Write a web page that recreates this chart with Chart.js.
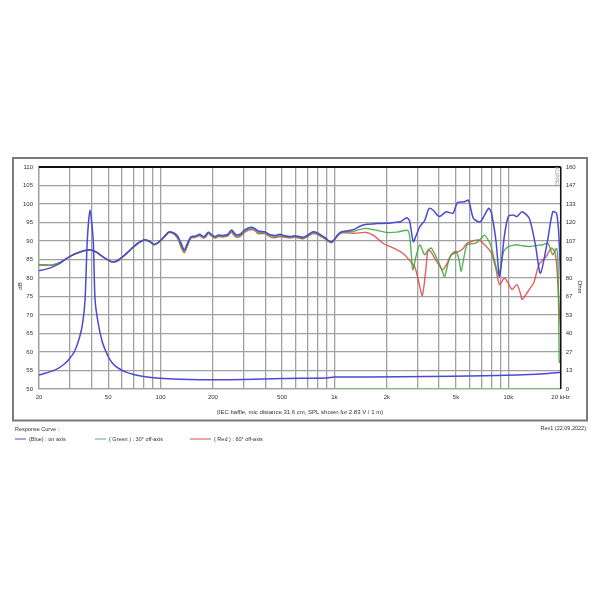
<!DOCTYPE html>
<html>
<head>
<meta charset="utf-8">
<script src="https://cdn.jsdelivr.net/npm/chart.js@4.4.0/dist/chart.umd.min.js"></script>
<style>
html,body{margin:0;padding:0;background:#fff;}
#wrap{width:600px;height:600px;}
</style>
</head>
<body>
<div id="wrap"><canvas id="c" width="600" height="600"></canvas></div>
<script>
// ---- data (frequency Hz, value) ----
const onAxisSPL = [[20,82],[22,82.4],[24,83],[26.5,84],[28.6,85.2],[31,86.2],[34,87],[37,87.5],[40,87.6],[43,86.9],[47,85.6],[52,84.5],[56,84.6],[60,85.6],[65,87],[70,88.5],[75,89.6],[80,90.3],[86,90],[92,89.1],[98,89.8],[105,91.2],[111,92.4],[116,92.4],[121,92],[126,91.2],[131,89.5],[137,87.6],[143,89.5],[150,91.2],[158,91.3],[168,91.8],[176,91.2],[182,91.6],[188,92.4],[196,91.8],[205,91.2],[215,91.6],[228,91.5],[243,91.8],[256,93],[265,92.2],[274,91.6],[290,92],[305,93],[332,93.7],[350,93.3],[365,92.7],[398,92.5],[415,92],[434,91.6],[460,91.5],[485,91.8],[520,91.4],[554,91.2],[594,91.4],[625,91.2],[660,91],[700,91.6],[753,92.5],[800,92.2],[838,91.6],[880,91],[920,90.2],[961,89.7],[1000,90.5],[1050,91.8],[1100,92.5],[1200,92.8],[1310,93.2],[1400,94],[1530,94.5],[1750,94.7],[2000,94.8],[2200,95],[2400,95.2],[2600,96.3],[2700,95.5],[2840,89.8],[2950,91.5],[3100,93.9],[3300,95.5],[3500,98.8],[3700,98.3],[4000,96.6],[4400,97.9],[4800,97.5],[5100,100.4],[5600,100.6],[5900,101],[6300,96.1],[6900,95.2],[7700,98.8],[8000,97.5],[8500,89.8],[8900,80.4],[9500,91.6],[10000,96.6],[10700,97],[11200,96.6],[12000,97.9],[13200,96.1],[14300,89],[15300,81.3],[16900,90.8],[18000,97.9],[18900,97.5],[19400,93.4],[19800,85],[20000,79]];

const offAxis30SPL = [[20,83.5],[22,83.5],[24,83.5],[26.5,84.2],[28.6,85.2],[31,86.1],[34,86.9],[37,87.4],[40,87.5],[43,86.9],[47,85.6],[52,84.4],[56,84.5],[60,85.5],[65,87],[70,88.4],[75,89.5],[80,90.2],[86,89.9],[92,89],[98,89.7],[105,91.1],[111,92.3],[116,92.3],[121,91.8],[126,90.8],[131,88.8],[137,87],[143,89],[150,91],[158,91.2],[168,91.6],[176,91],[182,91.3],[188,92.2],[196,91.6],[205,91],[215,91.4],[228,91.3],[243,91.5],[256,92.8],[265,91.8],[274,91.3],[290,91.7],[305,92.7],[332,93.4],[350,93],[365,92.3],[398,92.2],[415,91.7],[434,91.3],[460,91.2],[485,91.5],[520,91.2],[554,91],[594,91.2],[625,91],[660,90.8],[700,91.4],[753,92.3],[800,92],[838,91.4],[880,90.8],[920,90],[961,89.6],[1000,90.4],[1050,91.6],[1100,92.3],[1200,92.5],[1310,92.7],[1490,93.4],[1700,93],[2000,92.3],[2300,92.4],[2650,92.8],[2750,88],[2820,82.2],[2950,86],[3100,89],[3300,86.3],[3450,87.5],[3600,88.1],[3950,84.5],[4150,82],[4300,80.4],[4500,84],[4700,86.3],[5000,87.2],[5200,85],[5350,81.8],[5550,85.5],[5800,89],[6500,89.4],[7000,90.8],[7300,91.6],[7600,90.5],[7900,89],[8300,85],[8800,80.9],[9400,87.2],[10000,88.5],[11200,89],[12000,88.7],[13200,88.5],[14500,88.8],[15800,89],[16900,89.4],[18000,86.3],[18900,88],[19300,84],[19600,57.5],[19800,57]];

const offAxis60SPL = [[20,83.5],[22,83.5],[24,83.5],[26.5,84.2],[28.6,85.2],[31,86.1],[34,86.9],[37,87.4],[40,87.5],[43,86.9],[47,85.6],[52,84.4],[56,84.5],[60,85.5],[65,87],[70,88.4],[75,89.5],[80,90.2],[86,89.9],[92,89],[98,89.7],[105,91],[111,92.2],[116,92.2],[121,91.6],[126,90.5],[131,88.4],[137,86.8],[143,88.8],[150,90.8],[158,91],[168,91.4],[176,90.8],[182,91.1],[188,92],[196,91.4],[205,90.8],[215,91.2],[228,91.1],[243,91.3],[256,92.4],[265,91.5],[274,91],[290,91.4],[305,92.4],[332,93.1],[350,92.7],[365,92],[398,92],[415,91.5],[434,91],[460,90.9],[485,91.2],[520,91],[554,90.8],[594,91],[625,90.8],[660,90.6],[700,91.2],[753,92],[800,91.8],[838,91.2],[880,90.6],[920,89.9],[961,89.5],[1000,90.3],[1050,91.5],[1100,92.2],[1310,92.1],[1530,92.3],[1700,91.3],[1900,89.4],[2090,88.5],[2380,87.2],[2530,86.3],[2730,84.5],[2900,83],[3050,79],[3200,75.3],[3350,82],[3450,87.5],[3600,87],[3800,85],[4000,83.5],[4200,82.2],[4450,84],[4700,86.3],[5200,87.2],[5500,88],[5800,89.4],[6700,90.3],[7300,89],[8000,86.7],[8500,82.2],[8900,78.2],[9500,80],[10000,78.5],[10500,76.9],[11200,78.2],[11700,76],[12000,74.2],[12600,75.5],[13200,76.9],[14000,78.7],[15000,83.6],[16500,85.8],[17700,88.1],[18500,87],[19000,83.1],[19600,72],[20000,66]];

const onAxisImpedance = [[20,10],[22,11.5],[25,14],[28,18],[30,22],[32,27],[34,36],[35.5,46],[36.8,64],[37.9,107],[39.3,129],[41,107],[42,64.5],[43.7,48],[46,35],[48.5,27],[51,21.4],[55,16.5],[60,13.5],[64,12],[70,10.5],[80,9],[99,7.8],[130,7],[167,6.6],[200,6.6],[300,6.8],[508,7.6],[900,8],[1000,8.6],[2400,8.8],[4800,9.2],[11200,10.1],[16000,11],[20000,12]];

const greenBaseline = [[1000,0],[20000,0]];

const gridFreqs = [20,30,40,50,60,70,80,90,100,200,300,400,500,600,700,800,900,1000,2000,3000,4000,5000,6000,7000,8000,9000,10000,20000];
const xLabelValues = [20,50,100,200,500,1000,2000,5000,10000,20000];
const xLabelTexts = ['20','50','100','200','500','1k','2k','5k','10k','20 kHz'];
const ohmTickLabels = ['0','13','27','40','53','67','80','93','107','120','133','147','160'];

const toPts = a => a.map(p => ({x:p[0], y:p[1]}));

const FONT = 'Liberation Sans, Arial, sans-serif';
const BLUE = '#4a4ad2';
const GREEN = 'rgba(60,165,60,0.85)';
const RED = 'rgba(220,70,70,0.85)';

const extras = {
  id:'extras',
  afterDraw(chart){
    const ctx = chart.ctx, a = chart.chartArea;
    ctx.save();
    // outer frame
    ctx.strokeStyle = '#7a7a7a'; ctx.lineWidth = 2;
    ctx.strokeRect(13,158,574,262.5);
    // top and right black edges
    ctx.strokeStyle = '#111'; ctx.lineWidth = 2;
    ctx.beginPath(); ctx.moveTo(a.left,a.top); ctx.lineTo(a.right,a.top); ctx.stroke();
    ctx.lineWidth = 1.5;
    ctx.beginPath(); ctx.moveTo(a.right,a.top); ctx.lineTo(a.right,a.bottom); ctx.stroke();
    ctx.fillStyle = '#333';
    ctx.font = '6px ' + FONT;
    ctx.textBaseline = 'middle';
    // axis titles
    ctx.save(); ctx.translate(20,286); ctx.rotate(-Math.PI/2); ctx.textAlign='center'; ctx.fillText('dB',0,0); ctx.restore();
    ctx.save(); ctx.translate(580,287); ctx.rotate(Math.PI/2); ctx.textAlign='center'; ctx.fillText('Ohm',0,0); ctx.restore();
    // watermark
    ctx.save(); ctx.fillStyle='#999'; ctx.font='5px '+FONT; ctx.translate(556,177); ctx.rotate(Math.PI/2); ctx.textAlign='center'; ctx.fillText('KLIPPEL',0,0); ctx.restore();
    // caption
    ctx.textAlign = 'center';
    ctx.fillText('(IEC baffle, mic distance 31.6 cm, SPL shown for 2.83 V / 1 m)', 300, 412);
    // legend
    ctx.textAlign = 'left';
    ctx.font = '5.5px ' + FONT;
    ctx.fillText('Response Curve :', 15, 429);
    const items = [[15,26,BLUE,'(Blue) : on axis'],[95,106,'#6aa86a','( Green ) : 30° off-axis'],[190,211,'#d85050','( Red ) : 60° off-axis']];
    items.forEach(it=>{
      ctx.strokeStyle = it[2]; ctx.lineWidth = 1;
      ctx.beginPath(); ctx.moveTo(it[0],439); ctx.lineTo(it[1],439); ctx.stroke();
      ctx.fillStyle='#333';
      ctx.fillText(it[3], it[1]+3, 439);
    });
    ctx.textAlign='right';
    ctx.fillText('Rev1 (22.09.2022)', 586, 428);
    ctx.restore();
  }
};

new Chart(document.getElementById('c'), {
  type:'line',
  data:{
    datasets:[
      {data:toPts(onAxisSPL), borderColor:BLUE, borderWidth:1.5, yAxisID:'y'},
      {data:toPts(onAxisImpedance), borderColor:BLUE, borderWidth:1.5, yAxisID:'y1'},
      {data:toPts(offAxis30SPL), borderColor:GREEN, borderWidth:1.4, yAxisID:'y'},
      {data:toPts(offAxis60SPL), borderColor:RED, borderWidth:1.4, yAxisID:'y'},
      {data:toPts(greenBaseline), borderColor:'rgba(120,200,120,0.9)', borderWidth:1.5, yAxisID:'y1'}
    ]
  },
  options:{
    responsive:false,
    animation:false,
    events:[],
    elements:{point:{radius:0}, line:{tension:0.25, fill:false}},
    layout:{padding:{left:13,right:13,top:167,bottom:191}},
    plugins:{legend:{display:false}, tooltip:{enabled:false}},
    scales:{
      x:{
        type:'logarithmic', min:20, max:20000,
        afterBuildTicks(s){ s.ticks = gridFreqs.map(v=>({value:v})); },
        afterFit(s){ s.height = 20; },
        ticks:{autoSkip:false, maxRotation:0, minRotation:0, padding:5, color:'#333', font:{size:6, family:FONT},
          callback(v){ const i = xLabelValues.indexOf(v); return i>=0 ? xLabelTexts[i] : ''; }},
        grid:{color:'#a0a0a0', lineWidth:1.3, drawTicks:false},
        border:{color:'#a0a0a0', width:1.3}
      },
      y:{
        position:'left', min:50, max:110,
        ticks:{stepSize:5, padding:6, color:'#333', font:{size:6, family:FONT}},
        afterFit(s){ s.width = 26; },
        grid:{color:'#a0a0a0', lineWidth:1.3, drawTicks:false},
        border:{color:'#a0a0a0', width:1.3}
      },
      y1:{
        position:'right', min:0, max:160,
        afterBuildTicks(s){ s.ticks = ohmTickLabels.map((t,i)=>({value:i*160/12})); },
        afterFit(s){ s.width = 26.3; },
        ticks:{padding:5, color:'#333', font:{size:6, family:FONT},
          callback(v,i){ return ohmTickLabels[i]; }},
        grid:{display:false, drawTicks:false},
        border:{display:false}
      }
    }
  },
  plugins:[extras]
});
</script>
</body>
</html>
